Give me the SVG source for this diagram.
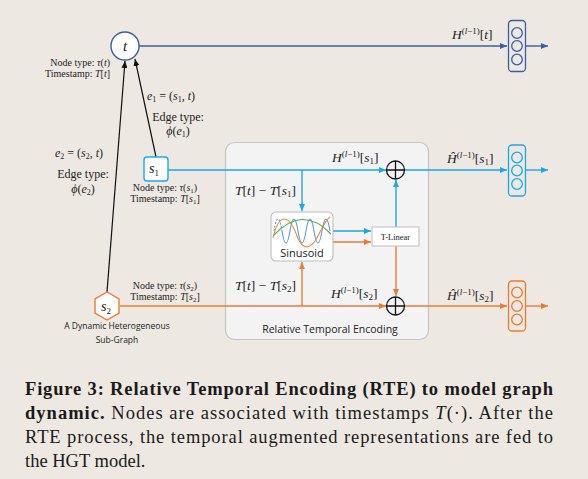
<svg xmlns="http://www.w3.org/2000/svg" width="588" height="479" viewBox="0 0 588 479">
<style>
.serif{font-family:"Liberation Serif","DejaVu Serif",serif;fill:#222}
.sans{font-family:"Open Sans","Liberation Sans",sans-serif;fill:#222}
.it{font-style:italic}
.nl{font-size:10px}
.el{font-size:12px}
.ml{font-size:13.5px}
.sup{font-size:9px}
.cap{font-size:18.5px;fill:#1a1a1a}
.vb{fill:none;stroke-width:1.3}
</style>
<defs>
<marker id="ak" markerUnits="userSpaceOnUse" markerWidth="7" markerHeight="6" refX="7" refY="3" orient="auto"><path d="M0,0 L7,3 L0,6 z" fill="#111"/></marker>
<marker id="ad" markerUnits="userSpaceOnUse" markerWidth="7" markerHeight="6" refX="7" refY="3" orient="auto"><path d="M0,0 L7,3 L0,6 z" fill="#3A5EA0"/></marker>
<marker id="al" markerUnits="userSpaceOnUse" markerWidth="7" markerHeight="6" refX="7" refY="3" orient="auto"><path d="M0,0 L7,3 L0,6 z" fill="#17A9EA"/></marker>
<marker id="ao" markerUnits="userSpaceOnUse" markerWidth="7" markerHeight="6" refX="7" refY="3" orient="auto"><path d="M0,0 L7,3 L0,6 z" fill="#EF7A2E"/></marker>
</defs>
<rect width="588" height="479" fill="#EDE9E2"/>

<g id="rte-box">
<rect x="225.5" y="142.5" width="203" height="197" rx="9" fill="#F3F3F3" stroke="#C4C4C4" stroke-width="1.2"/>
<text class="sans" x="330" y="333" font-size="10.5" text-anchor="middle">Relative Temporal Encoding</text>
</g>

<g id="connectors" fill="none" stroke-width="1.4">
<path d="M139,46 H507" stroke="#3A5EA0" marker-end="url(#ad)"/>
<path d="M526,46 H548" stroke="#3A5EA0" marker-end="url(#ad)"/>
<path d="M156,157 L135,59" stroke="#111" stroke-width="1.2" marker-end="url(#ak)"/>
<path d="M107,292 L125,61" stroke="#111" stroke-width="1.2" marker-end="url(#ak)"/>
<path d="M168,170 H386" stroke="#17A9EA" marker-end="url(#al)"/>
<path d="M405,170 H507" stroke="#17A9EA" marker-end="url(#al)"/>
<path d="M526,170 H548" stroke="#17A9EA" marker-end="url(#al)"/>
<path d="M302,170 V211" stroke="#17A9EA" marker-end="url(#al)"/>
<path d="M333,231 H371" stroke="#17A9EA" marker-end="url(#al)"/>
<path d="M396,227 V180" stroke="#17A9EA" marker-end="url(#al)"/>
<path d="M120,306 H386" stroke="#EF7A2E" marker-end="url(#ao)"/>
<path d="M405,306 H507" stroke="#EF7A2E" marker-end="url(#ao)"/>
<path d="M526,306 H548" stroke="#EF7A2E" marker-end="url(#ao)"/>
<path d="M302,306 V262" stroke="#EF7A2E" marker-end="url(#ao)"/>
<path d="M333,242 H371" stroke="#EF7A2E" marker-end="url(#ao)"/>
<path d="M396,246 V296" stroke="#EF7A2E" marker-end="url(#ao)"/>
</g>

<g id="node-t">
<circle cx="125" cy="46" r="14" fill="#fff" stroke="#3A5EA0" stroke-width="1.4"/>
<text class="serif it" x="125" y="51" font-size="15" text-anchor="middle">t</text>
<text class="serif nl" x="110" y="66" text-anchor="end">Node type: <tspan class="it">τ</tspan>(<tspan class="it">t</tspan>)</text>
<text class="serif nl" x="110" y="77" text-anchor="end">Timestamp: <tspan class="it">T</tspan>[<tspan class="it">t</tspan>]</text>
</g>

<g id="node-s1">
<rect x="144" y="157" width="24" height="24" rx="3" fill="#fff" stroke="#17A9EA" stroke-width="1.4"/>
<text class="serif it" x="154" y="173" font-size="14" text-anchor="middle">s<tspan font-size="9" font-style="normal" dy="3">1</tspan></text>
<text class="serif nl" x="165" y="191" text-anchor="middle">Node type: <tspan class="it">τ</tspan>(<tspan class="it">s</tspan><tspan font-size="7" dy="1.5">1</tspan><tspan dy="-1.5">)</tspan></text>
<text class="serif nl" x="165" y="202" text-anchor="middle">Timestamp: <tspan class="it">T</tspan>[<tspan class="it">s</tspan><tspan font-size="7" dy="1.5">1</tspan><tspan dy="-1.5">]</tspan></text>
</g>

<g id="node-s2">
<polygon points="107,292 119,299 119,313 107,320 95,313 95,299" fill="#fff" stroke="#EF7A2E" stroke-width="1.4"/>
<text class="serif it" x="106" y="311" font-size="14" text-anchor="middle">s<tspan font-size="9" font-style="normal" dy="3">2</tspan></text>
<text class="serif nl" x="165" y="289" text-anchor="middle">Node type: <tspan class="it">τ</tspan>(<tspan class="it">s</tspan><tspan font-size="7" dy="1.5">2</tspan><tspan dy="-1.5">)</tspan></text>
<text class="serif nl" x="165" y="300" text-anchor="middle">Timestamp: <tspan class="it">T</tspan>[<tspan class="it">s</tspan><tspan font-size="7" dy="1.5">2</tspan><tspan dy="-1.5">]</tspan></text>
<text class="sans" x="117" y="329" font-size="8.5" text-anchor="middle">A Dynamic Heterogeneous</text>
<text class="sans" x="117" y="343" font-size="8.5" text-anchor="middle">Sub-Graph</text>
</g>

<g id="edge-labels">
<text class="serif el" x="147" y="100"><tspan class="it">e</tspan><tspan font-size="8" dy="2">1</tspan><tspan dy="-2"> = (</tspan><tspan class="it">s</tspan><tspan font-size="8" dy="2">1</tspan><tspan dy="-2">, </tspan><tspan class="it">t</tspan>)</text>
<text class="serif el" x="178" y="121" text-anchor="middle">Edge type:</text>
<text class="serif el" x="178" y="135" text-anchor="middle"><tspan class="it">ϕ</tspan>(<tspan class="it">e</tspan><tspan font-size="8" dy="2">1</tspan><tspan dy="-2">)</tspan></text>
<text class="serif el" x="55" y="157"><tspan class="it">e</tspan><tspan font-size="8" dy="2">2</tspan><tspan dy="-2"> = (</tspan><tspan class="it">s</tspan><tspan font-size="8" dy="2">2</tspan><tspan dy="-2">, </tspan><tspan class="it">t</tspan>)</text>
<text class="serif el" x="83" y="178" text-anchor="middle">Edge type:</text>
<text class="serif el" x="83" y="193" text-anchor="middle"><tspan class="it">ϕ</tspan>(<tspan class="it">e</tspan><tspan font-size="8" dy="2">2</tspan><tspan dy="-2">)</tspan></text>
</g>

<g id="sinusoid">
<rect x="271" y="212" width="62" height="49" rx="5" fill="#fff" stroke="#BDBDBD" stroke-width="1.1"/>
<path d="M274,231 q4,-24 8,0" fill="none" stroke="#5B9BD5" stroke-width="1.1" stroke-dasharray="2,1.5"/>
<path d="M282,231 q4,24 8,0 t8,0 t8,0 t8,0 t8,0 t8,0" fill="none" stroke="#5B9BD5" stroke-width="1.1"/>
<path d="M273,238 C279,212 289,214 297,236 C303,252 312,250 320,232 C324,224 327,219 330,217" fill="none" stroke="#F08A3C" stroke-width="1.1"/>
<path d="M273,236 Q302,204 331,234" fill="none" stroke="#4CAF50" stroke-width="1.1"/>
<text class="sans" x="302" y="257" font-size="11" text-anchor="middle">Sinusoid</text>
</g>

<g id="t-linear">
<rect x="372" y="227" width="47" height="19" fill="#fff" stroke="#C4C4C4" stroke-width="1.1"/>
<text class="serif" x="395.5" y="240" font-size="8.5" text-anchor="middle">T-Linear</text>
</g>

<g id="add-s1">
<circle cx="395.5" cy="170" r="9" fill="#F3F3F3" stroke="#111" stroke-width="1.3"/>
<path d="M386.5,170 H404.5 M395.5,161 V179" stroke="#111" stroke-width="1.3"/>
</g>
<g id="add-s2">
<circle cx="395.5" cy="306" r="9" fill="#F3F3F3" stroke="#111" stroke-width="1.3"/>
<path d="M386.5,306 H404.5 M395.5,297 V315" stroke="#111" stroke-width="1.3"/>
</g>

<g id="vec-t">
<rect x="508.5" y="20.5" width="17" height="51" rx="3.5" class="vb" stroke="#3A5EA0"/>
<circle cx="517" cy="33" r="5.3" class="vb" stroke="#3A5EA0"/>
<circle cx="517" cy="46" r="5.3" class="vb" stroke="#3A5EA0"/>
<circle cx="517" cy="59.5" r="5.3" class="vb" stroke="#3A5EA0"/>
</g>
<g id="vec-s1">
<rect x="508.5" y="145" width="17" height="51" rx="3.5" class="vb" stroke="#17A9EA"/>
<circle cx="517" cy="157.5" r="5.3" class="vb" stroke="#17A9EA"/>
<circle cx="517" cy="170.5" r="5.3" class="vb" stroke="#17A9EA"/>
<circle cx="517" cy="184" r="5.3" class="vb" stroke="#17A9EA"/>
</g>
<g id="vec-s2">
<rect x="508.5" y="281" width="17" height="50" rx="3.5" class="vb" stroke="#EF7A2E"/>
<circle cx="517" cy="292.5" r="5.3" class="vb" stroke="#EF7A2E"/>
<circle cx="517" cy="306" r="5.3" class="vb" stroke="#EF7A2E"/>
<circle cx="517" cy="319.5" r="5.3" class="vb" stroke="#EF7A2E"/>
</g>

<g id="math-labels">
<text class="serif ml" x="452" y="39"><tspan class="it">H</tspan><tspan class="sup" dy="-5">(<tspan class="it">l</tspan>−1)</tspan><tspan dy="5">[</tspan><tspan class="it">t</tspan>]</text>
<text class="serif ml" x="332" y="162"><tspan class="it">H</tspan><tspan class="sup" dy="-5">(<tspan class="it">l</tspan>−1)</tspan><tspan dy="5">[</tspan><tspan class="it">s</tspan><tspan font-size="9" dy="2">1</tspan><tspan dy="-2">]</tspan></text>
<text class="serif ml" x="447" y="163"><tspan class="it">Ĥ</tspan><tspan class="sup" dy="-5">(<tspan class="it">l</tspan>−1)</tspan><tspan dy="5">[</tspan><tspan class="it">s</tspan><tspan font-size="9" dy="2">1</tspan><tspan dy="-2">]</tspan></text>
<text class="serif ml" x="331" y="298"><tspan class="it">H</tspan><tspan class="sup" dy="-5">(<tspan class="it">l</tspan>−1)</tspan><tspan dy="5">[</tspan><tspan class="it">s</tspan><tspan font-size="9" dy="2">2</tspan><tspan dy="-2">]</tspan></text>
<text class="serif ml" x="447" y="300"><tspan class="it">Ĥ</tspan><tspan class="sup" dy="-5">(<tspan class="it">l</tspan>−1)</tspan><tspan dy="5">[</tspan><tspan class="it">s</tspan><tspan font-size="9" dy="2">2</tspan><tspan dy="-2">]</tspan></text>
<text class="serif" x="235" y="195" font-size="13.5"><tspan class="it">T</tspan>[<tspan class="it">t</tspan>] − <tspan class="it">T</tspan>[<tspan class="it">s</tspan><tspan font-size="9" dy="2">1</tspan><tspan dy="-2">]</tspan></text>
<text class="serif" x="235" y="290" font-size="13.5"><tspan class="it">T</tspan>[<tspan class="it">t</tspan>] − <tspan class="it">T</tspan>[<tspan class="it">s</tspan><tspan font-size="9" dy="2">2</tspan><tspan dy="-2">]</tspan></text>
</g>

<g id="caption">
<text class="serif cap" x="25" y="395" font-weight="bold" textLength="528" lengthAdjust="spacing">Figure 3: Relative Temporal Encoding (RTE) to model graph</text>
<text class="serif cap" x="25" y="419" textLength="528" lengthAdjust="spacing"><tspan font-weight="bold">dynamic.</tspan> Nodes are associated with timestamps <tspan class="it">T</tspan>(·). After the</text>
<text class="serif cap" x="25" y="443" textLength="528" lengthAdjust="spacing">RTE process, the temporal augmented representations are fed to</text>
<text class="serif cap" x="25" y="467">the HGT model.</text>
</g>
</svg>
